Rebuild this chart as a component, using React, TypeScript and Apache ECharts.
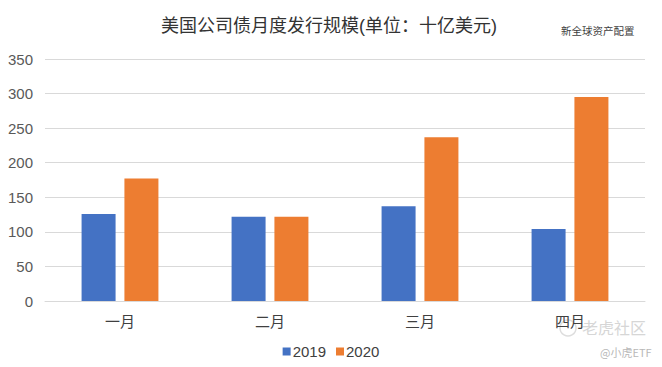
import React, { useEffect, useRef } from "react";
import * as echarts from "echarts";

const categories = ["一月", "二月", "三月", "四月"];
const series2019 = [126, 122, 137, 104];
const series2020 = [177, 122, 237, 295];
const seriesNames = ["2019", "2020"];
const yTicks = { min: 0, max: 350, interval: 50 };

const FONT = "'Liberation Sans', 'Noto Sans CJK SC', sans-serif";

export default function App() {
  const ref = useRef<HTMLDivElement>(null);
  useEffect(() => {
    if (!ref.current) return;
    const chart = echarts.init(ref.current, null, { renderer: "svg" });
    chart.setOption({
      animation: false,
      backgroundColor: "#ffffff",
      textStyle: { fontFamily: FONT },
      title: [
        {
          text: "美国公司债月度发行规模(单位：十亿美元)",
          left: 324,
          textAlign: "center",
          top: 12,
          textStyle: { fontSize: 18, fontWeight: "normal", color: "#333333", fontFamily: FONT },
        },
        {
          text: "新全球资产配置",
          left: 556,
          top: 21,
          textStyle: { fontSize: 10.5, fontWeight: "normal", color: "#404040", fontFamily: FONT },
        },
      ],
      legend: {
        data: seriesNames,
        bottom: 3,
        left: "center",
        itemWidth: 8,
        itemHeight: 8,
        itemGap: 10,
        icon: "rect",
        textStyle: { fontSize: 15, color: "#404040", fontFamily: FONT, padding: [0, 0, 0, -3] },
      },
      grid: { left: 45, right: 17, top: 59, bottom: 66, containLabel: false },
      xAxis: {
        type: "category",
        data: categories,
        axisTick: { show: false },
        axisLine: { lineStyle: { color: "#d9d9d9" } },
        axisLabel: { fontSize: 15, color: "#404040", margin: 13, fontFamily: FONT },
      },
      yAxis: {
        type: "value",
        min: yTicks.min,
        max: yTicks.max,
        interval: yTicks.interval,
        axisLine: { show: false },
        axisTick: { show: false },
        splitLine: { lineStyle: { color: "#d9d9d9" } },
        axisLabel: { fontSize: 15, color: "#595959", margin: 12, fontFamily: FONT },
      },
      series: [
        {
          name: seriesNames[0],
          type: "bar",
          data: series2019,
          barWidth: 34,
          barGap: "26%",
          itemStyle: { color: "#4472C4" },
        },
        {
          name: seriesNames[1],
          type: "bar",
          data: series2020,
          barWidth: 34,
          barGap: "26%",
          itemStyle: { color: "#ED7D31" },
        },
      ],
      graphic: [
        {
          type: "circle",
          shape: { cx: 568, cy: 328, r: 8 },
          style: { fill: "none", stroke: "#dddddd", lineWidth: 1.5 },
        },
        {
          type: "text",
          left: 582,
          top: 319,
          style: { text: "老虎社区", fill: "#d6d6d6", font: "16px 'Noto Sans CJK SC', sans-serif" },
        },
        {
          type: "text",
          left: 600,
          top: 346,
          style: { text: "@小虎ETF", fill: "#b8b8b8", font: "11px 'Noto Sans CJK SC', sans-serif" },
        },
      ],
    });
    return () => chart.dispose();
  }, []);
  return (
    <div
      ref={ref}
      style={{ position: "fixed", left: 0, top: 0, width: 662, height: 367 }}
    />
  );
}
